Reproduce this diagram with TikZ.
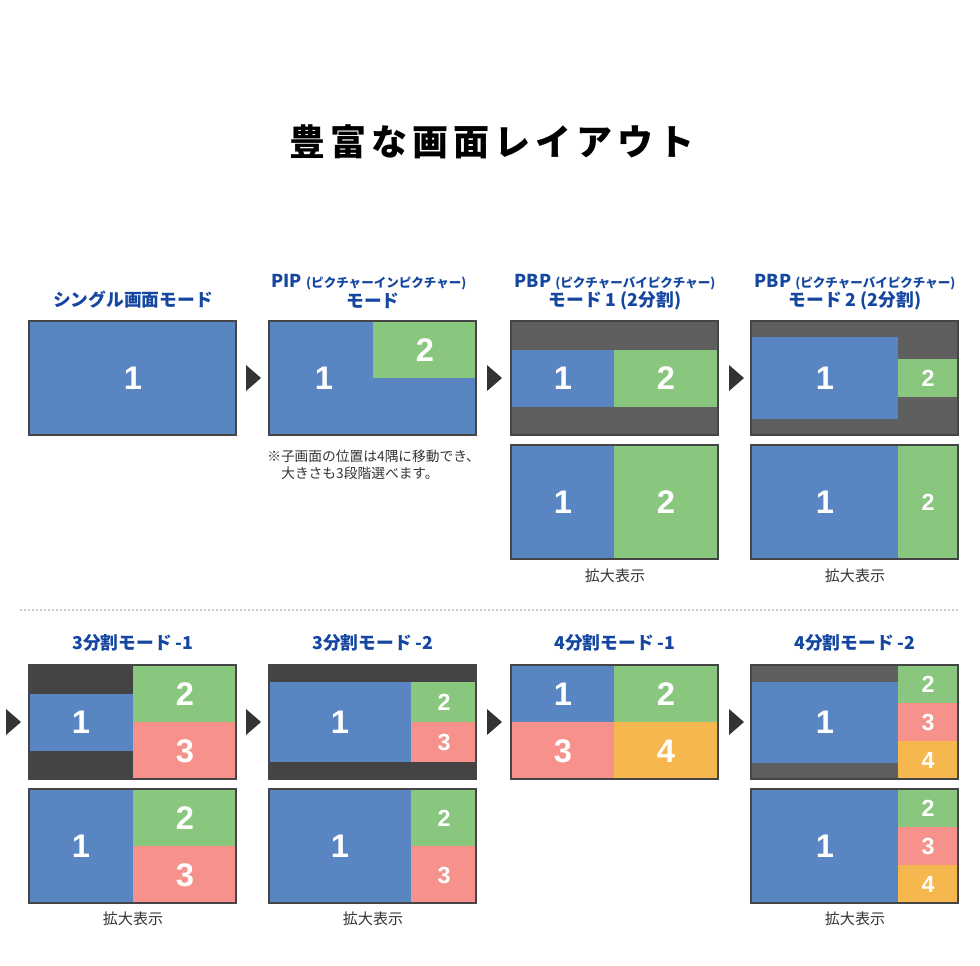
\documentclass[tikz,border=0pt]{standalone}
\usepackage{fontspec}
\setmainfont{Noto Sans CJK JP}
\newfontfamily\numfont{Liberation Sans}
\usetikzlibrary{positioning}
\definecolor{pblue}{HTML}{5986C3}
\definecolor{pgreen}{HTML}{8AC77E}
\definecolor{pred}{HTML}{F6918C}
\definecolor{porange}{HTML}{F7B74F}
\definecolor{bggray}{HTML}{5F5F5F}
\definecolor{bgdark}{HTML}{444444}
\definecolor{framegray}{HTML}{454545}
\definecolor{headblue}{HTML}{1546A0}
\definecolor{notegray}{HTML}{333333}
\tikzset{
  scr/.style={draw=framegray,line width=1.5pt},
  num/.style={text=white,inner sep=0pt,font=\numfont\bfseries\fontsize{24.5}{24}\selectfont},
  numsm/.style={num,font=\numfont\bfseries\fontsize{17.5}{18}\selectfont},
  head/.style={text=headblue,inner sep=0pt,font=\bfseries\fontsize{13.3}{16}\selectfont},
  captxt/.style={text=notegray,inner sep=0pt,font=\fontsize{11.3}{13}\selectfont},
  note/.style={text=notegray,inner sep=0pt,anchor=west,font=\fontsize{10.3}{12}\selectfont},
  ttlstyle/.style={inner sep=0pt,font=\bfseries\fontsize{27}{30}\selectfont\addfontfeatures{LetterSpace=14}},
}

\begin{document}
\begin{tikzpicture}[x=0.75pt,y=-0.75pt]
  \useasboundingbox (0,0) rectangle (980,965);

  \node[ttlstyle] (ttl) at (492,142) {豊富な画面レイアウト};

  % headings, row 1
  \node[head] (h1) at (133,300) {シングル画面モード};
  \node[head] (h2a) at (369,282) {PIP {\fontsize{9.4}{12}\selectfont (ピクチャーインピクチャー)}};
  \node[head] (h2b) at (373,301) {モード};
  \node[head] (h3a) at (615,282) {PBP {\fontsize{9.4}{12}\selectfont (ピクチャーバイピクチャー)}};
  \node[head] (h3b) at (615,301) {モード 1 (2分割)};
  \node[head] (h4a) at (855,282) {PBP {\fontsize{9.4}{12}\selectfont (ピクチャーバイピクチャー)}};
  \node[head] (h4b) at (855,301) {モード 2 (2分割)};

  % single
  \fill[pblue] (29,321) rectangle (236,435);
  \draw[scr] (29,321) rectangle (236,435);
  \node[num] (s1) at (133,378) {1};

  % PIP
  \fill[pblue] (269,321) rectangle (476,435);
  \fill[pgreen] (373,321) rectangle (476,378);
  \draw[scr] (269,321) rectangle (476,435);
  \node[num] (p1) at (324,378) {1};
  \node[num] (p2) at (425,350) {2};
  \node[note] (pn1) at (267,456) {※子画面の位置は4隅に移動でき、};
  \node[note] (pn2) at (281,473) {大きさも3段階選べます。};

  % PBP 1
  \fill[bggray] (511,321) rectangle (718,435);
  \fill[pblue] (511,350) rectangle (614,407);
  \fill[pgreen] (614,350) rectangle (718,407);
  \draw[scr] (511,321) rectangle (718,435);
  \node[num] (a1) at (563,378) {1};
  \node[num] (a2) at (666,378) {2};
  \fill[pblue] (511,445) rectangle (614,559);
  \fill[pgreen] (614,445) rectangle (718,559);
  \draw[scr] (511,445) rectangle (718,559);
  \node[num] (az1) at (563,502) {1};
  \node[num] (az2) at (666,502) {2};
  \node[captxt] (acap) at (615,576) {拡大表示};

  % PBP 2
  \fill[bggray] (751,321) rectangle (958,435);
  \fill[pblue] (751,337) rectangle (898,419);
  \fill[pgreen] (898,359) rectangle (958,397);
  \draw[scr] (751,321) rectangle (958,435);
  \node[num] (b1) at (825,378) {1};
  \node[numsm] (b2) at (928,378) {2};
  \fill[pblue] (751,445) rectangle (898,559);
  \fill[pgreen] (898,445) rectangle (958,559);
  \draw[scr] (751,445) rectangle (958,559);
  \node[num] (bz1) at (825,502) {1};
  \node[numsm] (bz2) at (928,502) {2};
  \node[captxt] (bcap) at (855,576) {拡大表示};

  % separator
  \coordinate (sepL) at (20,610);
  \coordinate (sepR) at (960,610);
  \draw[black!20,line width=1.5pt,dash pattern=on 1.5pt off 1.5pt] (sepL) -- (sepR);

  % headings, row 2
  \node[head] (h5) at (133,643) {3分割モード -1};
  \node[head] (h6) at (373,643) {3分割モード -2};
  \node[head] (h7) at (615,643) {4分割モード -1};
  \node[head] (h8) at (855,643) {4分割モード -2};

  % 3-split 1
  \fill[bgdark] (29,665) rectangle (236,779);
  \fill[pblue] (29,694) rectangle (133,751);
  \fill[pgreen] (133,665) rectangle (236,722);
  \fill[pred] (133,722) rectangle (236,779);
  \draw[scr] (29,665) rectangle (236,779);
  \node[num] (c1) at (81,722) {1};
  \node[num] (c2) at (185,694) {2};
  \node[num] (c3) at (185,751) {3};
  \fill[pblue] (29,789) rectangle (133,903);
  \fill[pgreen] (133,789) rectangle (236,846);
  \fill[pred] (133,846) rectangle (236,903);
  \draw[scr] (29,789) rectangle (236,903);
  \node[num] (cz1) at (81,846) {1};
  \node[num] (cz2) at (185,818) {2};
  \node[num] (cz3) at (185,875) {3};
  \node[captxt] (ccap) at (133,919) {拡大表示};

  % 3-split 2
  \fill[bgdark] (269,665) rectangle (476,779);
  \fill[pblue] (269,682) rectangle (411,762);
  \fill[pgreen] (411,682) rectangle (476,722);
  \fill[pred] (411,722) rectangle (476,762);
  \draw[scr] (269,665) rectangle (476,779);
  \node[num] (d1) at (340,722) {1};
  \node[numsm] (d2) at (444,702) {2};
  \node[numsm] (d3) at (444,742) {3};
  \fill[pblue] (269,789) rectangle (411,903);
  \fill[pgreen] (411,789) rectangle (476,846);
  \fill[pred] (411,846) rectangle (476,903);
  \draw[scr] (269,789) rectangle (476,903);
  \node[num] (dz1) at (340,846) {1};
  \node[numsm] (dz2) at (444,818) {2};
  \node[numsm] (dz3) at (444,875) {3};
  \node[captxt] (dcap) at (373,919) {拡大表示};

  % 4-split 1
  \fill[pblue] (511,665) rectangle (614,722);
  \fill[pgreen] (614,665) rectangle (718,722);
  \fill[pred] (511,722) rectangle (614,779);
  \fill[porange] (614,722) rectangle (718,779);
  \draw[scr] (511,665) rectangle (718,779);
  \node[num] (e1) at (563,694) {1};
  \node[num] (e2) at (666,694) {2};
  \node[num] (e3) at (563,751) {3};
  \node[num] (e4) at (666,751) {4};

  % 4-split 2
  \fill[bggray] (751,665) rectangle (958,779);
  \fill[pblue] (751,682) rectangle (898,763);
  \fill[pgreen] (898,665) rectangle (958,703);
  \fill[pred] (898,703) rectangle (958,741);
  \fill[porange] (898,741) rectangle (958,779);
  \draw[scr] (751,665) rectangle (958,779);
  \node[num] (f1) at (825,722) {1};
  \node[numsm] (f2) at (928,684) {2};
  \node[numsm] (f3) at (928,722) {3};
  \node[numsm] (f4) at (928,760) {4};
  \fill[pblue] (751,789) rectangle (898,903);
  \fill[pgreen] (898,789) rectangle (958,827);
  \fill[pred] (898,827) rectangle (958,865);
  \fill[porange] (898,865) rectangle (958,903);
  \draw[scr] (751,789) rectangle (958,903);
  \node[num] (fz1) at (825,846) {1};
  \node[numsm] (fz2) at (928,808) {2};
  \node[numsm] (fz3) at (928,846) {3};
  \node[numsm] (fz4) at (928,884) {4};
  \node[captxt] (fcap) at (855,919) {拡大表示};

  % arrow heads between the modes
  \foreach \ax/\ay in {246/378,487/378,729/378,6/722,246/722,487/722,729/722}
    \fill[black!80] (\ax,\ay-13) -- (\ax+15,\ay) -- (\ax,\ay+13) -- cycle;
\end{tikzpicture}
\end{document}
